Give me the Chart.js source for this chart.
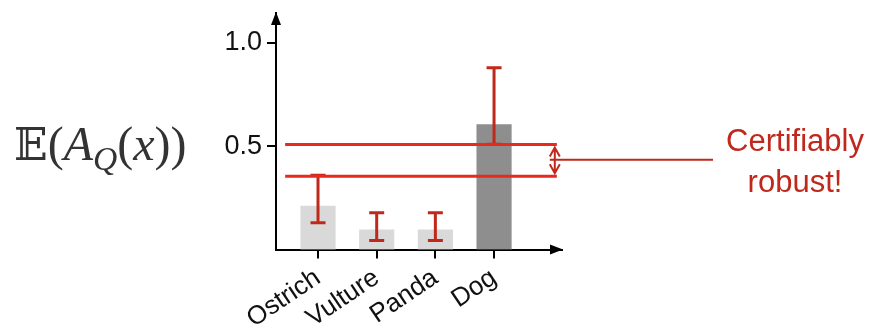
<!DOCTYPE html>
<html><head><meta charset="utf-8">
<script src="https://cdn.jsdelivr.net/npm/chart.js@4"></script>
<style>
html,body{margin:0;padding:0;background:#fff;}
#wrap{position:relative;width:873px;height:330px;overflow:hidden;}
canvas{position:absolute;left:0;top:0;}
#ylab{position:absolute;left:14px;top:120px;font-family:"Liberation Serif","DejaVu Serif",serif;font-size:48px;line-height:48px;color:#333;white-space:nowrap;}
#ylab .bb{font-family:"DejaVu Serif","DejaVu Sans",serif;font-size:0.92em;}
#ylab sub{font-size:0.7em;vertical-align:-0.3em;line-height:0;}
#note{position:absolute;left:715px;top:120px;width:160px;text-align:center;font-family:"Liberation Sans",Arial,sans-serif;font-size:31px;line-height:41px;color:#c0281c;}
</style></head>
<body><div id="wrap"><canvas id="c" width="873" height="330"></canvas>
<div id="ylab"><span class="bb">𝔼</span>(<i>A</i><sub><i>Q</i></sub>(<i>x</i>))</div>
<div id="note">Certifiably<br>robust!</div></div>
<script>
const categories = ["Ostrich", "Vulture", "Panda", "Dog"];
const meanValues = [0.21, 0.095, 0.095, 0.605];
const errLow = [0.13, 0.044, 0.044, 0.51];
const errHigh = [0.36, 0.178, 0.178, 0.88];
const thresholds = [0.508, 0.355];
const yTickValues = [0.5, 1.0];
const barColors = ["#d9d9d9", "#d9d9d9", "#d9d9d9", "#8e8e8e"];

const deco = {
  id: 'deco',
  afterDatasetsDraw(chart) {
    const ctx = chart.ctx, xs = chart.scales.x, ys = chart.scales.y, ca = chart.chartArea;
    ctx.save();
    // error bars
    ctx.strokeStyle = '#c0281c'; ctx.lineWidth = 3; ctx.lineCap = 'butt';
    categories.forEach((c, i) => {
      const x = xs.getPixelForValue(i), y1 = ys.getPixelForValue(errLow[i]), y2 = ys.getPixelForValue(errHigh[i]);
      ctx.beginPath();
      ctx.moveTo(x, y1); ctx.lineTo(x, y2);
      ctx.moveTo(x - 7.5, y1); ctx.lineTo(x + 7.5, y1);
      ctx.moveTo(x - 7.5, y2); ctx.lineTo(x + 7.5, y2);
      ctx.stroke();
    });
    // threshold lines
    const xl = xs.getPixelForValue(-0.56), xr = xs.getPixelForValue(4.07);
    ctx.strokeStyle = '#e8291e'; ctx.lineWidth = 3;
    thresholds.forEach(t => {
      const y = ys.getPixelForValue(t);
      ctx.beginPath(); ctx.moveTo(xl, y); ctx.lineTo(xr, y); ctx.stroke();
    });
    // double arrow + connector
    const ax = xs.getPixelForValue(4.035);
    const yt = ys.getPixelForValue(thresholds[0]) + 3, yb = ys.getPixelForValue(thresholds[1]) - 3;
    const ym = (yt + yb) / 2 - 0.5;
    ctx.strokeStyle = '#c0281c'; ctx.lineWidth = 2;
    ctx.beginPath();
    ctx.moveTo(ax, yt); ctx.lineTo(ax, yb);
    ctx.moveTo(ax - 5, yt + 9); ctx.lineTo(ax, yt); ctx.lineTo(ax + 5, yt + 9);
    ctx.moveTo(ax - 5, yb - 9); ctx.lineTo(ax, yb); ctx.lineTo(ax + 5, yb - 9);
    ctx.moveTo(ax - 5, ym); ctx.lineTo(713, ym);
    ctx.stroke();
    // axis arrowheads
    ctx.fillStyle = '#000';
    ctx.beginPath();
    ctx.moveTo(ca.left, ca.top - 1); ctx.lineTo(ca.left - 5, ca.top + 12); ctx.lineTo(ca.left + 5, ca.top + 12); ctx.closePath(); ctx.fill();
    ctx.beginPath();
    ctx.moveTo(ca.right + 1, ca.bottom); ctx.lineTo(ca.right - 12, ca.bottom - 5); ctx.lineTo(ca.right - 12, ca.bottom + 5); ctx.closePath(); ctx.fill();
    ctx.restore();
  }
};

new Chart(document.getElementById('c'), {
  type: 'bar',
  data: {
    datasets: [{
      data: categories.map((c, i) => ({ x: i, y: meanValues[i] })),
      backgroundColor: barColors,
      barThickness: 34.5,
      borderWidth: 0
    }]
  },
  options: {
    responsive: false,
    animation: false,
    events: [],
    layout: { padding: { left: 0, right: 311, top: 13, bottom: 0 } },
    plugins: { legend: { display: false }, tooltip: { enabled: false } },
    scales: {
      x: {
        type: 'linear', min: -0.716, max: 4.158, offset: false,
        afterBuildTicks: s => { s.ticks = categories.map((c, i) => ({ value: i })); },
        afterFit: s => { s.height = 80.5; s.paddingLeft = 0; s.paddingRight = 0; },
        ticks: {
          callback: v => categories[v],
          minRotation: 34, maxRotation: 34, autoSkip: false,
          font: { family: 'Liberation Sans', size: 26 }, color: '#111', padding: 4
        },
        grid: { offset: false, drawOnChartArea: false, tickLength: 9, color: '#000', lineWidth: 2 },
        border: { color: '#000', width: 2 }
      },
      y: {
        min: 0, max: 1.145,
        afterBuildTicks: s => { s.ticks = yTickValues.map(v => ({ value: v })); },
        afterFit: s => { s.width = 276; s.paddingTop = 0; s.paddingBottom = 0; },
        ticks: {
          callback: v => v.toFixed(1),
          font: { family: 'Liberation Sans', size: 27 }, color: '#111', padding: 5
        },
        grid: { drawOnChartArea: false, tickLength: 9, color: '#000', lineWidth: 2 },
        border: { color: '#000', width: 2 }
      }
    }
  },
  plugins: [deco]
});
</script>
</body></html>
